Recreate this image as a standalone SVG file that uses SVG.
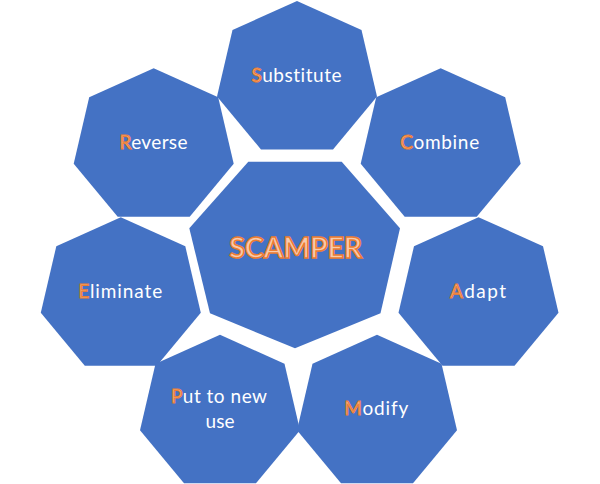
<svg xmlns="http://www.w3.org/2000/svg" xmlns:xlink="http://www.w3.org/1999/xlink" width="600" height="484" viewBox="0 0 600 484">
  <style>
    .shape { fill: #4472C4; }
    .lbl { font-family: Lato, "Open Sans", "Liberation Sans", sans-serif; font-size: 19px; fill: #FFFFFF; text-anchor: middle; font-variant-ligatures: none; }
    .ini { fill: #F4B183; stroke: #ED7D31; stroke-width: 1; }
    .title { font-family: Lato, "Open Sans", "Liberation Sans", sans-serif; font-size: 28.5px; font-weight: bold; fill: #F8CBAD; stroke: #ED7D31; stroke-width: 1.5; text-anchor: middle; }
  </style>
  <defs>
    <polygon id="hept" points="0,0 64.5,29 80,95.5 36,148.5 -36,148.5 -80,95.5 -64.5,29"/>
  </defs>
  <rect width="600" height="484" fill="#FFFFFF"/>
  <g id="connectors"></g>
  <g id="node-substitute">
    <use xlink:href="#hept" href="#hept" class="shape" x="297" y="1"/>
    <text class="lbl" x="296.5" y="81.5" textLength="90" lengthAdjust="spacing"><tspan class="ini">S</tspan>ubstitute</text>
  </g>
  <g id="node-reverse">
    <use xlink:href="#hept" href="#hept" class="shape" x="153.7" y="68.3"/>
    <text class="lbl" x="153.5" y="149" textLength="68" lengthAdjust="spacing"><tspan class="ini">R</tspan>everse</text>
  </g>
  <g id="node-combine">
    <use xlink:href="#hept" href="#hept" class="shape" x="440.7" y="68.3"/>
    <text class="lbl" x="439.7" y="149" textLength="79" lengthAdjust="spacing"><tspan class="ini">C</tspan>ombine</text>
  </g>
  <g id="node-eliminate">
    <use xlink:href="#hept" href="#hept" class="shape" x="120.8" y="217.3"/>
    <text class="lbl" x="120.2" y="298.3" textLength="84" lengthAdjust="spacing"><tspan class="ini">E</tspan>liminate</text>
  </g>
  <g id="node-adapt">
    <use xlink:href="#hept" href="#hept" class="shape" x="478.5" y="217.2"/>
    <text class="lbl" x="478" y="298.3" textLength="56" lengthAdjust="spacing"><tspan class="ini">A</tspan>dapt</text>
  </g>
  <g id="node-put">
    <use xlink:href="#hept" href="#hept" class="shape" x="220" y="334.8"/>
    <text class="lbl" x="219" y="402.7" textLength="96" lengthAdjust="spacing"><tspan class="ini">P</tspan>ut to new</text>
    <text class="lbl" x="220" y="428.3">use</text>
  </g>
  <g id="node-modify">
    <use xlink:href="#hept" href="#hept" class="shape" x="377" y="334.8"/>
    <text class="lbl" x="376.3" y="415" textLength="64" lengthAdjust="spacing"><tspan class="ini">M</tspan>odify</text>
  </g>
  <g id="node-scamper">
    <polygon class="shape" points="248.3,161.7 341.7,161.7 400,228.3 380.5,313.3 295,348.3 210,313.3 189.3,228.3"/>
    <text class="title" x="295.7" y="258.3" textLength="133" lengthAdjust="spacing">SCAMPER</text>
  </g>
</svg>
